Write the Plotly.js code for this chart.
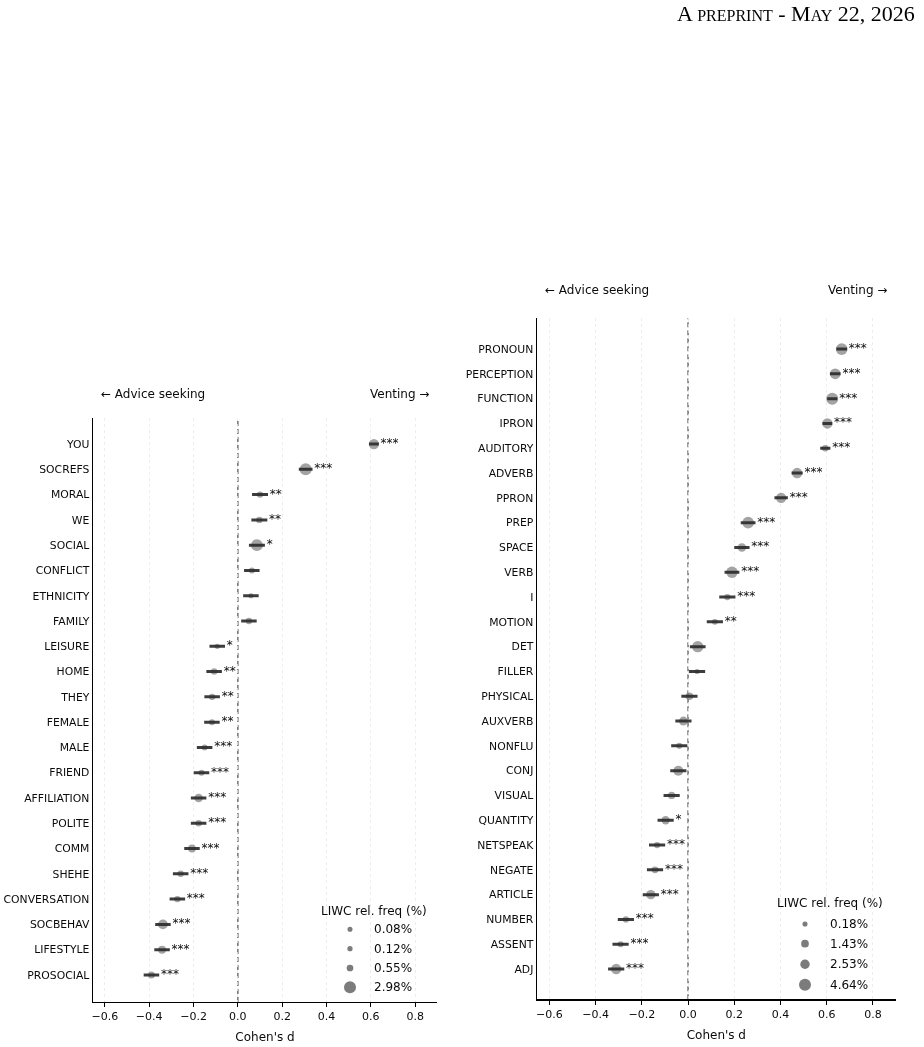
<!DOCTYPE html>
<html>
<head>
<meta charset="utf-8">
<script src="https://cdn.plot.ly/plotly-3.0.1.min.js"></script>
<style>
  html, body { margin: 0; padding: 0; background: #ffffff; }
  #chart { width: 924px; height: 1047px; filter: grayscale(100%); }
</style>
</head>
<body>
<div id="chart"></div>
<script>
// Social / affective LIWC categories: effect size (Cohen's d), 95% CI half-width,
// mean relative frequency (%) and significance stars.
const socialCats = ["YOU", "SOCREFS", "MORAL", "WE", "SOCIAL", "CONFLICT", "ETHNICITY", "FAMILY",
  "LEISURE", "HOME", "THEY", "FEMALE", "MALE", "FRIEND", "AFFILIATION", "POLITE", "COMM",
  "SHEHE", "CONVERSATION", "SOCBEHAV", "LIFESTYLE", "PROSOCIAL"];
const socialD = [0.614, 0.306, 0.100, 0.097, 0.086, 0.063, 0.059, 0.050,
  -0.093, -0.107, -0.116, -0.117, -0.150, -0.164, -0.177, -0.177, -0.207,
  -0.258, -0.273, -0.338, -0.342, -0.390];
const socialCI = [0.022, 0.031, 0.036, 0.036, 0.036, 0.035, 0.035, 0.035,
  0.035, 0.035, 0.035, 0.035, 0.035, 0.035, 0.035, 0.035, 0.035,
  0.035, 0.035, 0.035, 0.035, 0.035];
const socialFreq = [2.05, 2.98, 0.45, 0.45, 2.87, 0.30, 0.08, 0.45,
  0.12, 0.45, 0.45, 0.33, 0.33, 0.33, 1.30, 0.45, 0.95,
  0.45, 0.45, 1.80, 1.00, 0.65];
const socialStars = ["***", "***", "**", "**", "*", "", "", "",
  "*", "**", "**", "**", "***", "***", "***", "***", "***",
  "***", "***", "***", "***", "***"];
const socialLegend = [0.08, 0.12, 0.55, 2.98];

// Linguistic / function-word LIWC categories.
const lingCats = ["PRONOUN", "PERCEPTION", "FUNCTION", "IPRON", "AUDITORY", "ADVERB", "PPRON",
  "PREP", "SPACE", "VERB", "I", "MOTION", "DET", "FILLER", "PHYSICAL", "AUXVERB", "NONFLU",
  "CONJ", "VISUAL", "QUANTITY", "NETSPEAK", "NEGATE", "ARTICLE", "NUMBER", "ASSENT", "ADJ"];
const lingD = [0.665, 0.637, 0.624, 0.603, 0.594, 0.472, 0.403,
  0.260, 0.233, 0.190, 0.170, 0.116, 0.042, 0.039, 0.006, -0.020, -0.038,
  -0.042, -0.071, -0.097, -0.134, -0.143, -0.161, -0.269, -0.292, -0.311];
const lingCI = [0.023, 0.023, 0.022, 0.021, 0.022, 0.024, 0.029,
  0.032, 0.033, 0.032, 0.035, 0.035, 0.034, 0.035, 0.035, 0.035, 0.035,
  0.035, 0.035, 0.035, 0.035, 0.035, 0.035, 0.035, 0.035, 0.035];
const lingFreq = [4.45, 3.50, 4.64, 3.25, 0.85, 3.25, 3.25,
  4.30, 2.00, 4.20, 0.70, 0.50, 4.10, 0.18, 1.40, 2.20, 0.60,
  2.95, 1.20, 1.80, 0.70, 1.00, 2.50, 0.70, 0.60, 3.25];
const lingStars = ["***", "***", "***", "***", "***", "***", "***",
  "***", "***", "***", "***", "**", "", "", "", "", "",
  "", "", "*", "***", "***", "***", "***", "***", "***"];
const lingLegend = [0.18, 1.43, 2.53, 4.64];

const xTicks = [-0.6, -0.4, -0.2, 0.0, 0.2, 0.4, 0.6, 0.8];

const FONT = "DejaVu Sans, sans-serif";
const INK = "#0a0a0a";
const W = 924, H = 1047;
const px = v => v / W;          // pixel -> paper x
const py = v => 1 - v / H;      // pixel -> paper y

// Marker diameter grows with frequency (area-linear between the legend extremes).
function diam(f, legendVals) {
  const lo = Math.min(...legendVals), hi = Math.max(...legendVals);
  return Math.sqrt(26 + 118 * (f - lo) / (hi - lo));
}

function panelTraces(cats, d, ci, freq, stars, legendVals, xa, ya) {
  return [
    {
      type: "scatter", mode: "markers", x: d, y: cats, xaxis: xa, yaxis: ya,
      marker: { size: freq.map(f => diam(f, legendVals)), color: "#7c7c7c", line: { width: 0 } },
      hoverinfo: "x+y", showlegend: false
    },
    {
      type: "scatter", mode: "markers", x: d, y: cats, xaxis: xa, yaxis: ya,
      marker: { size: 1, opacity: 0 },
      error_x: { type: "data", array: ci, visible: true, thickness: 3, width: 0, color: "rgba(45,45,45,0.92)" },
      hoverinfo: "skip", showlegend: false
    },
    {
      // significance stars just right of each interval
      type: "scatter", mode: "text", x: d.map((v, i) => v + ci[i] + 0.008), y: cats,
      xaxis: xa, yaxis: ya, text: stars, textposition: "middle right",
      textfont: { family: FONT, size: 12, color: INK },
      hoverinfo: "skip", showlegend: false
    }
  ];
}

function legendParts(vals, titleX, titleY, markX, textX, rowY) {
  const shapes = [], notes = [];
  notes.push({
    x: px(titleX), y: py(titleY), xref: "paper", yref: "paper", text: "LIWC rel. freq (%)",
    showarrow: false, xanchor: "center", yanchor: "middle", font: { family: FONT, size: 12, color: INK }
  });
  vals.forEach((v, i) => {
    const r = diam(v, vals) / 2;
    shapes.push({
      type: "circle", xref: "paper", yref: "paper", xsizemode: "pixel", ysizemode: "pixel",
      xanchor: px(markX), yanchor: py(rowY[i]), x0: -r, x1: r, y0: -r, y1: r,
      fillcolor: "#7c7c7c", line: { width: 0 }
    });
    notes.push({
      x: px(textX), y: py(rowY[i]), xref: "paper", yref: "paper", text: v.toFixed(2) + "%",
      showarrow: false, xanchor: "left", yanchor: "middle", font: { family: FONT, size: 12, color: INK }
    });
  });
  return { shapes, notes };
}

const xAxisBase = {
  range: [-0.655, 0.9], tickmode: "array", tickvals: xTicks,
  ticktext: xTicks.map(t => (t < 0 ? "\u2212" : "") + Math.abs(t).toFixed(1)),
  ticks: "outside", ticklen: 4, tickwidth: 1, tickcolor: "#000",
  showline: true, linecolor: "#000", linewidth: 1.2, mirror: false,
  showgrid: true, gridcolor: "#e8e8e8", gridwidth: 0.8, griddash: "dot",
  zeroline: false, tickfont: { family: FONT, size: 11, color: INK },
  title: { text: "Cohen's d", font: { family: FONT, size: 12, color: INK }, standoff: 10 },
  fixedrange: true
};
const yAxisBase = {
  type: "category", ticks: "", showline: true, linecolor: "#000", linewidth: 1.2,
  showgrid: false, zeroline: false, ticklabelstandoff: 0,
  tickfont: { family: FONT, size: 10.8, color: INK }, fixedrange: true
};

const leftLegend = legendParts(socialLegend, 374, 910.5, 350, 372, [929.3, 948.7, 968, 987.3]);
const rightLegend = legendParts(lingLegend, 830, 903.3, 805, 828, [924, 943.7, 964.3, 984.7]);

const layout = {
  width: W, height: H, paper_bgcolor: "#fff", plot_bgcolor: "#fff",
  margin: { l: 0, r: 0, t: 0, b: 0 }, showlegend: false,
  xaxis: Object.assign({}, xAxisBase, { domain: [px(92.7), px(437.3)], anchor: "y" }),
  yaxis: Object.assign({}, yAxisBase, {
    domain: [py(1002), py(418)], anchor: "x",
    categoryorder: "array", categoryarray: socialCats,
    range: [socialCats.length - 1 + 1.07, -1.03]
  }),
  xaxis2: Object.assign({}, xAxisBase, { domain: [px(536.7), px(896)], anchor: "y2" }),
  yaxis2: Object.assign({}, yAxisBase, {
    domain: [py(999.3), py(318.3)], anchor: "x2",
    categoryorder: "array", categoryarray: lingCats,
    range: [lingCats.length - 1 + 1.22, -1.24]
  }),
  shapes: [
    { type: "line", xref: "x", yref: "y domain", x0: 0, x1: 0, y0: 0, y1: 1,
      line: { color: "#666", width: 1.4, dash: "5px,3px" }, layer: "below" },
    { type: "line", xref: "x2", yref: "y2 domain", x0: 0, x1: 0, y0: 0, y1: 1,
      line: { color: "#666", width: 1.4, dash: "5px,3px" }, layer: "below" }
  ].concat(leftLegend.shapes, rightLegend.shapes),
  annotations: [
    { x: px(917), y: py(13), xref: "paper", yref: "paper", xanchor: "right", yanchor: "middle",
      showarrow: false, font: { family: "Liberation Serif, serif", size: 22, color: "#000" },
      text: "A <span style=\"font-size:16px\">PREPRINT</span> - M<span style=\"font-size:16px\">AY</span> 22, 2026" },
    { x: px(99), y: py(394), xref: "paper", yref: "paper", xanchor: "left", yanchor: "middle",
      showarrow: false, text: "\u2190 Advice seeking", font: { family: FONT, size: 12, color: INK } },
    { x: px(431), y: py(394), xref: "paper", yref: "paper", xanchor: "right", yanchor: "middle",
      showarrow: false, text: "Venting \u2192", font: { family: FONT, size: 12, color: INK } },
    { x: px(543), y: py(290), xref: "paper", yref: "paper", xanchor: "left", yanchor: "middle",
      showarrow: false, text: "\u2190 Advice seeking", font: { family: FONT, size: 12, color: INK } },
    { x: px(889), y: py(290), xref: "paper", yref: "paper", xanchor: "right", yanchor: "middle",
      showarrow: false, text: "Venting \u2192", font: { family: FONT, size: 12, color: INK } }
  ].concat(leftLegend.notes, rightLegend.notes)
};

const data = [].concat(
  panelTraces(socialCats, socialD, socialCI, socialFreq, socialStars, socialLegend, "x", "y"),
  panelTraces(lingCats, lingD, lingCI, lingFreq, lingStars, lingLegend, "x2", "y2")
);

Plotly.newPlot("chart", data, layout, { displayModeBar: false, staticPlot: true });
</script>
</body>
</html>
